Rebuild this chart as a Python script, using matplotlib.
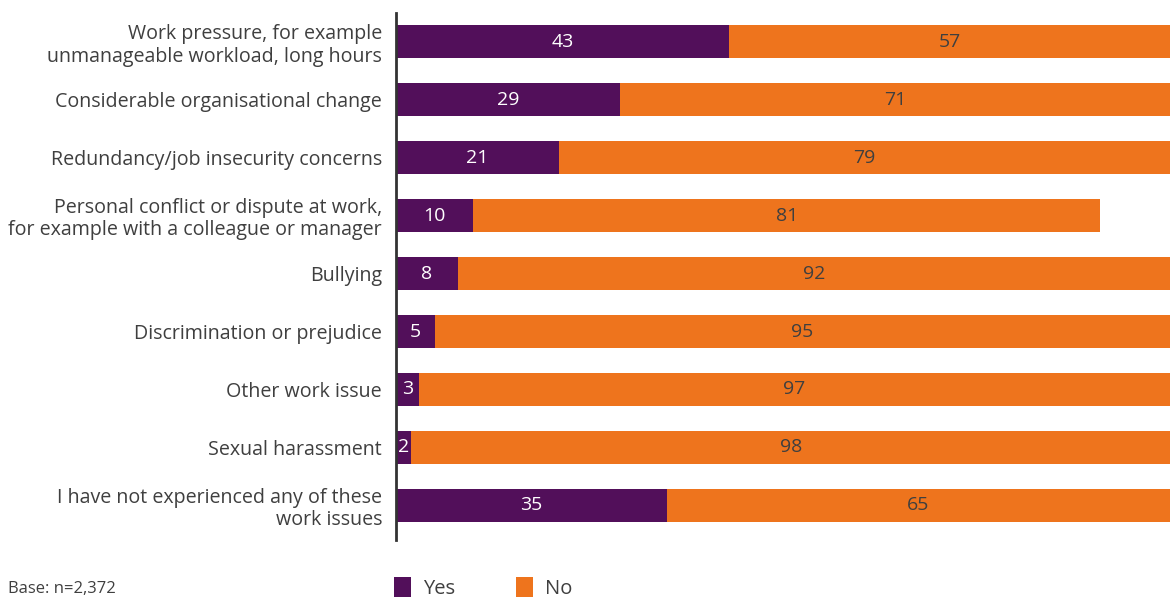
import matplotlib.pyplot as plt
import numpy as np

categories = [
    "Work pressure, for example\nunmanageable workload, long hours",
    "Considerable organisational change",
    "Redundancy/job insecurity concerns",
    "Personal conflict or dispute at work,\nfor example with a colleague or manager",
    "Bullying",
    "Discrimination or prejudice",
    "Other work issue",
    "Sexual harassment",
    "I have not experienced any of these\nwork issues",
]
yes = [43, 29, 21, 10, 8, 5, 3, 2, 35]
no = [57, 71, 79, 81, 92, 95, 97, 98, 65]

PURPLE = "#520F5A"
ORANGE = "#EE741D"
TEXT = "#3F3F3F"

plt.rcParams["font.family"] = ["Open Sans", "DejaVu Sans"]

fig = plt.figure(figsize=(11.74, 5.98), dpi=100)
ax = fig.add_axes([396 / 1174, 1 - 540 / 598, 774 / 1174, 527 / 598])

y = np.arange(len(categories))
h = 0.57
b1 = ax.barh(y, yes, height=h, color=PURPLE, label="Yes")
b2 = ax.barh(y, no, left=yes, height=h, color=ORANGE, label="No")

for i in range(len(categories)):
    ax.text(yes[i] / 2, y[i], str(yes[i]), ha="center", va="center",
            color="white", fontsize=14)
    ax.text(yes[i] + no[i] / 2, y[i], str(no[i]), ha="center", va="center",
            color=TEXT, fontsize=14)

ax.set_xlim(0, 100)
ax.set_ylim(len(categories) - 0.4, -0.5)
ax.set_yticks(y)
ax.set_yticklabels(categories, fontsize=14.1, color=TEXT, linespacing=1.15)
ax.tick_params(axis="y", length=0, pad=10)
ax.set_xticks([])
for s in ["top", "right", "bottom"]:
    ax.spines[s].set_visible(False)
ax.spines["left"].set_color("#333333")
ax.spines["left"].set_linewidth(2)

fig.text(8 / 1174, 1 - 589 / 598, "Base: n=2,372", fontsize=12,
         color=TEXT, va="center", ha="left")

fig.legend(handles=[b1, b2], loc="center left",
           bbox_to_anchor=(376 / 1174, 1 - 588 / 598), ncol=2,
           frameon=False, fontsize=14.5, handlelength=0.85, handleheight=1.1,
           handletextpad=0.6, columnspacing=3.0, labelcolor=TEXT)

fig.savefig("out.png", dpi=100)
